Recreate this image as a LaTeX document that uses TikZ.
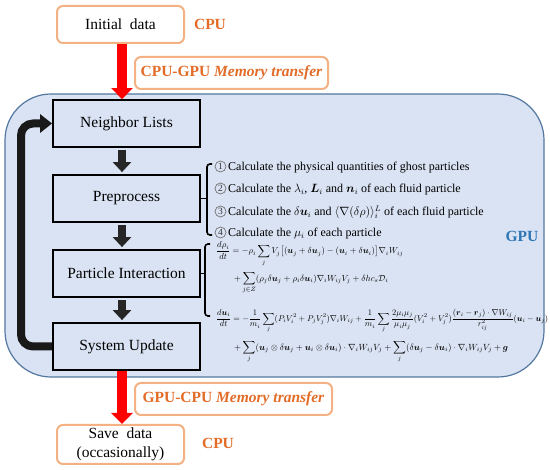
\documentclass[tikz,border=0pt]{standalone}
\usepackage{amsmath}
\usepackage{graphicx}
\usepackage{fontspec}
\setmainfont{Liberation Serif}
\usetikzlibrary{arrows.meta}
\definecolor{orgtext}{RGB}{226,108,40}
\definecolor{orgline}{RGB}{244,177,131}
\definecolor{gpufill}{RGB}{218,227,243}
\definecolor{gpuline}{RGB}{84,120,160}
\definecolor{gputext}{RGB}{46,117,182}
\definecolor{darkarr}{RGB}{38,38,38}
\newcommand{\bu}{\boldsymbol{u}}
\tikzset{
  cpubox/.style={draw=orgline, line width=2pt, fill=white, rounded corners=6pt,
    font=\fontsize{15.5}{19}\selectfont, align=center, inner sep=0pt},
  mtbox/.style={draw=orgline, line width=2pt, fill=white, rounded corners=6pt,
    text=orgtext, font=\bfseries\fontsize{15.5}{19}\selectfont, inner sep=0pt},
  tag/.style={text=orgtext, font=\bfseries\fontsize{15.5}{19}\selectfont, inner sep=0pt},
  gpubox/.style={draw=gpuline, line width=1.2pt, fill=gpufill, rounded corners=46pt},
  stepbox/.style={draw=black, line width=1.8pt, fill=gpufill, minimum width=147pt,
    minimum height=47pt, font=\fontsize{15.5}{19}\selectfont, inner sep=0pt},
  redarr/.style={draw=red, line width=10pt, -{Triangle[width=21pt,length=11pt]}},
  darr/.style={draw=darkarr, line width=8pt, -{Triangle[width=18pt,length=10pt]},
    shorten <=2pt, shorten >=2pt},
  fbarr/.style={draw=black!90, line width=8pt, -{Triangle[width=18pt,length=12pt]},
    rounded corners=12pt},
  item/.style={anchor=base west, font=\fontsize{12}{14}\selectfont, inner sep=0pt},
  num/.style={circle, draw=black!55, line width=0.7pt, minimum size=11pt, inner sep=0pt,
    text=black!80, font=\fontsize{9.5}{10}\selectfont},
  eqn/.style={anchor=west, inner sep=0pt},
  brk/.style={draw=black, line width=1.6pt},
}
\begin{document}
\begin{tikzpicture}[x=1pt,y=-1pt]
\useasboundingbox (0,0) rectangle (550,470);
% GPU container
\node[gpubox, minimum width=539pt, minimum height=283pt] (gpu) at (274.5,235.5) {};
\node[text=gputext, font=\bfseries\fontsize{15.5}{19}\selectfont] (gpul) at (522,236) {GPU};

% CPU side
\node[cpubox, minimum width=127pt, minimum height=37pt] (init) at (120.5,24.5) {Initial\enspace data};
\node[tag] (cpu1) at (210,24.5) {CPU};
\node[mtbox, minimum width=193pt, minimum height=32pt] (mt1) at (231.5,73) {CPU-GPU \textit{Memory transfer}};
\node[mtbox, minimum width=197pt, minimum height=32pt] (mt2) at (233.5,399) {GPU-CPU \textit{Memory transfer}};
\node[cpubox, minimum width=127pt, minimum height=39pt] (save) at (120.5,444.5) {Save\enspace data\\(occasionally)};
\node[tag] (cpu2) at (218,443) {CPU};

% steps
\node[stepbox] (nl) at (126.5,123.5) {Neighbor Lists};
\node[stepbox] (pre) at (126.5,198.5) {Preprocess};
\node[stepbox] (pi) at (126.5,273.5) {Particle Interaction};
\node[stepbox] (su) at (126.5,346.5) {System Update};

\coordinate (ax) at (122,0);
\coordinate (fbx) at (21,0);

% arrows
\draw[redarr] (init.south -| ax) -- (nl.north -| ax);
\draw[redarr] (su.south -| ax) -- (save.north -| ax);
\draw[darr] (nl.south -| ax) -- (pre.north -| ax);
\draw[darr] (pre.south -| ax) -- (pi.north -| ax);
\draw[darr] (pi.south -| ax) -- (su.north -| ax);
\draw[fbarr] (su.west) -- (su.west -| fbx) -- (nl.west -| fbx) -- (nl.west);

% brackets
\coordinate (b1) at (207,198.5);
\draw[brk] (pre.east) -- (b1);
\draw[brk, rounded corners=3pt] (212,164) -- (207,164) -- (207,235) -- (212,235);
\coordinate (b2) at (205,273.5);
\draw[brk] (pi.east) -- (b2);
\draw[brk, rounded corners=3pt] (210,244) -- (205,244) -- (205,316) -- (210,316);

% preprocess items
\node[num] (n1) at (220.5,166.5) {1};
\node[num] (n2) at (220.5,188.5) {2};
\node[num] (n3) at (220.5,211.5) {3};
\node[num] (n4) at (220.5,232.5) {4};
\node[item] (it1) at (228,171) {Calculate the physical quantities of ghost particles};
\node[item] (it2) at (228,193) {Calculate the $\lambda_i$, $\boldsymbol{L}_i$ and $\boldsymbol{n}_i$ of each fluid particle};
\node[item] (it3) at (228,216) {Calculate the $\delta\bu_i$ and $\langle\nabla(\delta\rho)\rangle_i^L$ of each fluid particle};
\node[item] (it4) at (228,237) {Calculate the $\mu_i$ of each particle};

% equations
\node[eqn] (e1a) at (216,254) {\resizebox{187pt}{!}{$\displaystyle \frac{d\rho_i}{dt}=-\rho_i\sum_j V_j\big[(\bu_j+\delta\bu_j)-(\bu_i+\delta\bu_i)\big]\nabla_i W_{ij}$}};
\node[eqn] (e1b) at (234,283) {\resizebox{154pt}{!}{$\displaystyle +\sum_{j\in Z}(\rho_j\delta\bu_j+\rho_i\delta\bu_i)\nabla_i W_{ij}V_j+\delta h c_s\mathcal{D}_i$}};
\node[eqn] (e2a) at (216,321) {\resizebox{332pt}{!}{$\displaystyle \frac{d\bu_i}{dt}=-\frac{1}{m_i}\sum_j(P_iV_i^2+P_jV_j^2)\nabla_iW_{ij}+\frac{1}{m_i}\sum_j\frac{2\mu_i\mu_j}{\mu_i\mu_j}(V_i^2+V_j^2)\frac{(\boldsymbol{r}_i-\boldsymbol{r}_j)\cdot\nabla W_{ij}}{r_{ij}^2}(\bu_i-\bu_j)$}};
\node[eqn] (e2b) at (234,352) {\resizebox{274pt}{!}{$\displaystyle +\sum_j(\bu_j\otimes\delta\bu_j+\bu_i\otimes\delta\bu_i)\cdot\nabla_iW_{ij}V_j+\sum_j(\delta\bu_j-\delta\bu_i)\cdot\nabla_iW_{ij}V_j+\boldsymbol{g}$}};
\end{tikzpicture}
\end{document}
